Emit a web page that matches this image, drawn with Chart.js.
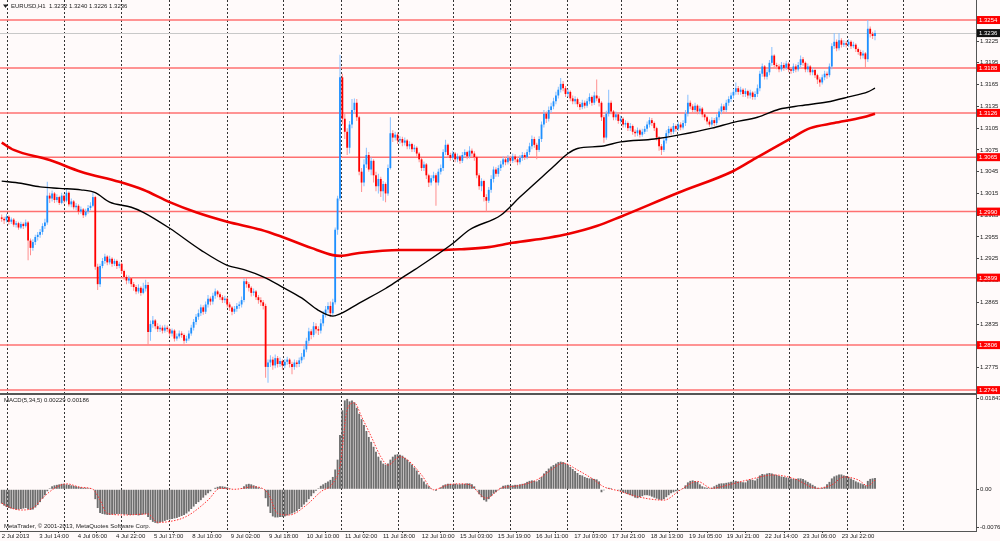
<!DOCTYPE html>
<html>
<head>
  <meta charset="UTF-8">
  <title>EURUSD,H1</title>
  <script src="https://cdn.jsdelivr.net/npm/chart.js@4.4.1/dist/chart.umd.min.js"></script>
  <style>
    html, body { margin: 0; padding: 0; background: #fffafa; }
    #wrap { position: relative; width: 1000px; height: 541px; }
  </style>
</head>
<body>
  <div id="wrap"><canvas id="chart" width="1000" height="541"></canvas></div>
  <script>
    // hourly candles (bar 0 = 2 Jul 22:00)
    var opens = [
      1.2982,1.2980,1.2978,1.2983,1.2976,1.2979,1.2972,1.2974,1.2968,1.2973,
      1.2970,1.2975,1.2950,1.2940,1.2948,1.2955,1.2958,1.2962,1.2970,1.2975,
      1.3012,1.3008,1.3015,1.3006,1.3010,1.3002,1.3012,1.3005,1.3016,1.3000,
      1.3004,1.2996,1.2998,1.2990,1.2993,1.2985,1.2990,1.2995,1.2998,1.3010,
      1.2914,1.2890,1.2915,1.2922,1.2928,1.2920,1.2925,1.2918,1.2922,1.2915,
      1.2918,1.2908,1.2900,1.2895,1.2898,1.2890,1.2886,1.2880,1.2885,1.2878,
      1.2884,1.2889,1.2824,1.2835,1.2840,1.2832,1.2828,1.2830,1.2826,1.2830,
      1.2828,1.2822,1.2826,1.2815,1.2818,1.2822,1.2820,1.2812,1.2815,1.2822,
      1.2830,1.2838,1.2845,1.2850,1.2858,1.2852,1.2862,1.2870,1.2866,1.2874,
      1.2880,1.2876,1.2872,1.2868,1.2870,1.2862,1.2858,1.2852,1.2856,1.2860,
      1.2862,1.2868,1.2894,1.2890,1.2885,1.2878,1.2880,1.2872,1.2868,1.2865,
      1.2860,1.2776,1.2782,1.2786,1.2778,1.2788,1.2780,1.2784,1.2778,1.2783,
      1.2786,1.2780,1.2776,1.2782,1.2780,1.2785,1.2790,1.2800,1.2812,1.2825,
      1.2820,1.2832,1.2828,1.2826,1.2836,1.2848,1.2855,1.2860,1.2850,1.2865,
      1.2965,1.3008,1.3175,1.3118,1.3100,1.3078,1.3110,1.3130,1.3140,1.3120,
      1.3045,1.3030,1.3055,1.3068,1.3048,1.3060,1.3040,1.3025,1.3035,1.3018,
      1.3028,1.3015,1.3050,1.3098,1.3092,1.3096,1.3088,1.3090,1.3085,1.3088,
      1.3080,1.3083,1.3076,1.3078,1.3070,1.3062,1.3050,1.3055,1.3040,1.3030,
      1.3036,1.3040,1.3030,1.3045,1.3050,1.3072,1.3082,1.3068,1.3064,1.3070,
      1.3062,1.3066,1.3060,1.3068,1.3072,1.3066,1.3074,1.3070,1.3065,1.3040,
      1.3025,1.3032,1.3010,1.3005,1.3020,1.3035,1.3048,1.3042,1.3050,1.3055,
      1.3062,1.3058,1.3064,1.3060,1.3066,1.3062,1.3058,1.3064,1.3068,1.3065,
      1.3072,1.3080,1.3090,1.3082,1.3075,1.3090,1.3110,1.3125,1.3118,1.3130,
      1.3135,1.3142,1.3150,1.3158,1.3166,1.3160,1.3152,1.3155,1.3146,1.3142,
      1.3145,1.3138,1.3134,1.3140,1.3136,1.3142,1.3148,1.3140,1.3150,1.3146,
      1.3140,1.3120,1.3092,1.3125,1.3140,1.3128,1.3120,1.3124,1.3115,1.3118,
      1.3110,1.3112,1.3105,1.3108,1.3100,1.3098,1.3102,1.3096,1.3100,1.3104,
      1.3110,1.3116,1.3112,1.3105,1.3092,1.3080,1.3075,1.3088,1.3098,1.3104,
      1.3100,1.3108,1.3104,1.3110,1.3106,1.3112,1.3125,1.3140,1.3135,1.3130,
      1.3136,1.3128,1.3132,1.3124,1.3120,1.3114,1.3110,1.3116,1.3112,1.3120,
      1.3128,1.3135,1.3130,1.3140,1.3145,1.3150,1.3155,1.3160,1.3155,1.3158,
      1.3152,1.3156,1.3150,1.3154,1.3148,1.3152,1.3160,1.3180,1.3190,1.3176,
      1.3182,1.3195,1.3205,1.3192,1.3190,1.3186,1.3192,1.3188,1.3194,1.3186,
      1.3184,1.3190,1.3186,1.3192,1.3200,1.3195,1.3186,1.3190,1.3182,1.3185,
      1.3178,1.3172,1.3168,1.3175,1.3180,1.3178,1.3190,1.3218,1.3224,1.3215,
      1.3226,1.3220,1.3222,1.3220,1.3224,1.3218,1.3220,1.3214,1.3210,1.3205,
      1.3208,1.3200,1.3242,1.3235,1.3232
    ];
    var highs = [
      1.2986,1.2983,1.2987,1.2985,1.2982,1.2981,1.2977,1.2976,1.2976,1.2975,
      1.2979,1.2977,1.2953,1.2952,1.2958,1.2962,1.2966,1.2974,1.2980,1.3031,
      1.3016,1.3019,1.3017,1.3014,1.3012,1.3016,1.3014,1.3022,1.3018,1.3008,
      1.3006,1.3002,1.3000,1.2997,1.2995,1.2994,1.2999,1.3003,1.3016,1.3012,
      1.2918,1.2918,1.2926,1.2932,1.2930,1.2929,1.2927,1.2925,1.2924,1.2921,
      1.2920,1.2910,1.2903,1.2902,1.2900,1.2893,1.2889,1.2890,1.2887,1.2892,
      1.2896,1.2893,1.2840,1.2846,1.2842,1.2836,1.2834,1.2833,1.2834,1.2833,
      1.2830,1.2829,1.2828,1.2822,1.2826,1.2825,1.2822,1.2819,1.2826,1.2834,
      1.2842,1.2849,1.2855,1.2862,1.2861,1.2866,1.2875,1.2873,1.2878,1.2884,
      1.2882,1.2879,1.2875,1.2874,1.2872,1.2865,1.2860,1.2860,1.2864,1.2866,
      1.2873,1.2898,1.2898,1.2893,1.2887,1.2884,1.2882,1.2875,1.2872,1.2868,
      1.2863,1.2786,1.2792,1.2790,1.2793,1.2791,1.2789,1.2786,1.2787,1.2790,
      1.2788,1.2783,1.2786,1.2785,1.2789,1.2795,1.2805,1.2816,1.2830,1.2828,
      1.2838,1.2836,1.2832,1.2842,1.2853,1.2860,1.2865,1.2866,1.2870,1.2968,
      1.3012,1.3206,1.3180,1.3125,1.3105,1.3115,1.3145,1.3146,1.3145,1.3122,
      1.3050,1.3062,1.3078,1.3072,1.3065,1.3062,1.3045,1.3042,1.3038,1.3032,
      1.3030,1.3055,1.3120,1.3102,1.3100,1.3099,1.3094,1.3093,1.3092,1.3090,
      1.3087,1.3085,1.3082,1.3080,1.3072,1.3064,1.3059,1.3057,1.3042,1.3040,
      1.3045,1.3043,1.3049,1.3055,1.3076,1.3089,1.3084,1.3071,1.3074,1.3072,
      1.3070,1.3068,1.3072,1.3076,1.3074,1.3080,1.3077,1.3073,1.3067,1.3043,
      1.3036,1.3034,1.3014,1.3024,1.3040,1.3052,1.3051,1.3054,1.3060,1.3066,
      1.3065,1.3068,1.3067,1.3070,1.3069,1.3065,1.3068,1.3072,1.3071,1.3076,
      1.3085,1.3095,1.3093,1.3085,1.3094,1.3114,1.3130,1.3128,1.3135,1.3140,
      1.3147,1.3155,1.3162,1.3174,1.3170,1.3163,1.3159,1.3157,1.3150,1.3149,
      1.3147,1.3141,1.3144,1.3143,1.3146,1.3153,1.3150,1.3155,1.3172,1.3149,
      1.3142,1.3123,1.3129,1.3158,1.3143,1.3130,1.3128,1.3126,1.3122,1.3120,
      1.3116,1.3114,1.3112,1.3110,1.3103,1.3106,1.3104,1.3104,1.3108,1.3114,
      1.3120,1.3119,1.3114,1.3107,1.3094,1.3083,1.3092,1.3102,1.3108,1.3107,
      1.3112,1.3110,1.3114,1.3113,1.3116,1.3130,1.3151,1.3143,1.3138,1.3140,
      1.3138,1.3136,1.3134,1.3127,1.3122,1.3117,1.3120,1.3119,1.3124,1.3132,
      1.3139,1.3138,1.3144,1.3149,1.3154,1.3159,1.3168,1.3163,1.3162,1.3160,
      1.3160,1.3158,1.3158,1.3156,1.3156,1.3165,1.3184,1.3194,1.3192,1.3186,
      1.3199,1.3217,1.3207,1.3195,1.3193,1.3196,1.3195,1.3198,1.3196,1.3189,
      1.3194,1.3193,1.3196,1.3205,1.3203,1.3197,1.3194,1.3192,1.3189,1.3187,
      1.3180,1.3175,1.3179,1.3184,1.3183,1.3194,1.3222,1.3236,1.3227,1.3236,
      1.3229,1.3226,1.3225,1.3228,1.3226,1.3224,1.3222,1.3216,1.3213,1.3212,
      1.3210,1.3254,1.3245,1.3238,1.3240
    ];
    var lows = [
      1.2976,1.2973,1.2975,1.2972,1.2973,1.2969,1.2968,1.2965,1.2966,1.2966,
      1.2968,1.2923,1.2930,1.2936,1.2944,1.2950,1.2954,1.2958,1.2966,1.2972,
      1.3002,1.3004,1.3002,1.3003,1.2999,1.3000,1.3001,1.3003,1.2997,1.2996,
      1.2993,1.2992,1.2986,1.2987,1.2981,1.2983,1.2987,1.2992,1.2996,1.2910,
      1.2882,1.2886,1.2912,1.2918,1.2916,1.2917,1.2914,1.2915,1.2911,1.2912,
      1.2904,1.2896,1.2890,1.2891,1.2886,1.2881,1.2876,1.2877,1.2874,1.2876,
      1.2880,1.2806,1.2812,1.2830,1.2828,1.2824,1.2824,1.2822,1.2823,1.2824,
      1.2818,1.2818,1.2811,1.2812,1.2815,1.2816,1.2808,1.2809,1.2812,1.2819,
      1.2826,1.2834,1.2841,1.2846,1.2848,1.2849,1.2858,1.2861,1.2862,1.2870,
      1.2872,1.2868,1.2864,1.2864,1.2858,1.2853,1.2847,1.2849,1.2852,1.2856,
      1.2858,1.2865,1.2885,1.2880,1.2873,1.2874,1.2868,1.2863,1.2860,1.2855,
      1.2761,1.2754,1.2776,1.2772,1.2774,1.2775,1.2776,1.2772,1.2774,1.2779,
      1.2775,1.2766,1.2772,1.2775,1.2776,1.2781,1.2786,1.2796,1.2808,1.2814,
      1.2817,1.2822,1.2820,1.2822,1.2832,1.2844,1.2850,1.2845,1.2846,1.2862,
      1.2958,1.3005,1.3110,1.3090,1.3068,1.3070,1.3105,1.3125,1.3115,1.3040,
      1.3017,1.3025,1.3050,1.3045,1.3040,1.3030,1.3018,1.3015,1.3010,1.3005,
      1.3003,1.3012,1.3048,1.3086,1.3088,1.3083,1.3084,1.3080,1.3081,1.3076,
      1.3076,1.3072,1.3072,1.3066,1.3058,1.3046,1.3046,1.3035,1.3024,1.3026,
      1.3032,1.2998,1.3026,1.3041,1.3046,1.3068,1.3064,1.3060,1.3061,1.3058,
      1.3058,1.3056,1.3057,1.3065,1.3062,1.3063,1.3066,1.3060,1.3036,1.3020,
      1.3018,1.3004,1.2990,1.3002,1.3016,1.3030,1.3038,1.3038,1.3046,1.3051,
      1.3054,1.3055,1.3056,1.3057,1.3058,1.3054,1.3055,1.3060,1.3061,1.3062,
      1.3068,1.3076,1.3078,1.3062,1.3072,1.3086,1.3106,1.3112,1.3114,1.3126,
      1.3131,1.3138,1.3146,1.3154,1.3156,1.3148,1.3148,1.3142,1.3138,1.3138,
      1.3134,1.3130,1.3131,1.3132,1.3133,1.3138,1.3136,1.3137,1.3142,1.3135,
      1.3115,1.3085,1.3089,1.3121,1.3124,1.3116,1.3116,1.3111,1.3111,1.3106,
      1.3106,1.3101,1.3101,1.3096,1.3093,1.3094,1.3092,1.3093,1.3097,1.3100,
      1.3106,1.3108,1.3101,1.3088,1.3074,1.3068,1.3072,1.3084,1.3094,1.3096,
      1.3097,1.3100,1.3101,1.3102,1.3103,1.3108,1.3121,1.3131,1.3126,1.3127,
      1.3124,1.3124,1.3120,1.3116,1.3110,1.3107,1.3107,1.3108,1.3109,1.3116,
      1.3124,1.3126,1.3127,1.3136,1.3141,1.3146,1.3151,1.3151,1.3151,1.3148,
      1.3148,1.3146,1.3146,1.3144,1.3144,1.3148,1.3156,1.3176,1.3172,1.3172,
      1.3178,1.3191,1.3188,1.3186,1.3182,1.3183,1.3184,1.3185,1.3182,1.3180,
      1.3181,1.3182,1.3183,1.3188,1.3191,1.3182,1.3182,1.3178,1.3178,1.3174,
      1.3166,1.3162,1.3165,1.3171,1.3173,1.3175,1.3186,1.3214,1.3211,1.3212,
      1.3216,1.3217,1.3216,1.3217,1.3214,1.3215,1.3210,1.3206,1.3200,1.3201,
      1.3188,1.3196,1.3230,1.3228,1.3226
    ];
    var closes = [
      1.2980,1.2978,1.2983,1.2976,1.2979,1.2972,1.2974,1.2968,1.2973,1.2970,
      1.2975,1.2950,1.2940,1.2948,1.2955,1.2958,1.2962,1.2970,1.2975,1.3012,
      1.3008,1.3015,1.3006,1.3010,1.3002,1.3012,1.3005,1.3016,1.3000,1.3004,
      1.2996,1.2998,1.2990,1.2993,1.2985,1.2990,1.2995,1.2998,1.3010,1.2914,
      1.2890,1.2915,1.2922,1.2928,1.2920,1.2925,1.2918,1.2922,1.2915,1.2918,
      1.2908,1.2900,1.2895,1.2898,1.2890,1.2886,1.2880,1.2885,1.2878,1.2884,
      1.2889,1.2824,1.2835,1.2840,1.2832,1.2828,1.2830,1.2826,1.2830,1.2828,
      1.2822,1.2826,1.2815,1.2818,1.2822,1.2820,1.2812,1.2815,1.2822,1.2830,
      1.2838,1.2845,1.2850,1.2858,1.2852,1.2862,1.2870,1.2866,1.2874,1.2880,
      1.2876,1.2872,1.2868,1.2870,1.2862,1.2858,1.2852,1.2856,1.2860,1.2862,
      1.2868,1.2894,1.2890,1.2885,1.2878,1.2880,1.2872,1.2868,1.2865,1.2860,
      1.2776,1.2782,1.2786,1.2778,1.2788,1.2780,1.2784,1.2778,1.2783,1.2786,
      1.2780,1.2776,1.2782,1.2780,1.2785,1.2790,1.2800,1.2812,1.2825,1.2820,
      1.2832,1.2828,1.2826,1.2836,1.2848,1.2855,1.2860,1.2850,1.2865,1.2965,
      1.3008,1.3175,1.3118,1.3100,1.3078,1.3110,1.3130,1.3140,1.3120,1.3045,
      1.3030,1.3055,1.3068,1.3048,1.3060,1.3040,1.3025,1.3035,1.3018,1.3028,
      1.3015,1.3050,1.3098,1.3092,1.3096,1.3088,1.3090,1.3085,1.3088,1.3080,
      1.3083,1.3076,1.3078,1.3070,1.3062,1.3050,1.3055,1.3040,1.3030,1.3036,
      1.3040,1.3030,1.3045,1.3050,1.3072,1.3082,1.3068,1.3064,1.3070,1.3062,
      1.3066,1.3060,1.3068,1.3072,1.3066,1.3074,1.3070,1.3065,1.3040,1.3025,
      1.3032,1.3010,1.3005,1.3020,1.3035,1.3048,1.3042,1.3050,1.3055,1.3062,
      1.3058,1.3064,1.3060,1.3066,1.3062,1.3058,1.3064,1.3068,1.3065,1.3072,
      1.3080,1.3090,1.3082,1.3075,1.3090,1.3110,1.3125,1.3118,1.3130,1.3135,
      1.3142,1.3150,1.3158,1.3166,1.3160,1.3152,1.3155,1.3146,1.3142,1.3145,
      1.3138,1.3134,1.3140,1.3136,1.3142,1.3148,1.3140,1.3150,1.3146,1.3140,
      1.3120,1.3092,1.3125,1.3140,1.3128,1.3120,1.3124,1.3115,1.3118,1.3110,
      1.3112,1.3105,1.3108,1.3100,1.3098,1.3102,1.3096,1.3100,1.3104,1.3110,
      1.3116,1.3112,1.3105,1.3092,1.3080,1.3075,1.3088,1.3098,1.3104,1.3100,
      1.3108,1.3104,1.3110,1.3106,1.3112,1.3125,1.3140,1.3135,1.3130,1.3136,
      1.3128,1.3132,1.3124,1.3120,1.3114,1.3110,1.3116,1.3112,1.3120,1.3128,
      1.3135,1.3130,1.3140,1.3145,1.3150,1.3155,1.3160,1.3155,1.3158,1.3152,
      1.3156,1.3150,1.3154,1.3148,1.3152,1.3160,1.3180,1.3190,1.3176,1.3182,
      1.3195,1.3205,1.3192,1.3190,1.3186,1.3192,1.3188,1.3194,1.3186,1.3184,
      1.3190,1.3186,1.3192,1.3200,1.3195,1.3186,1.3190,1.3182,1.3185,1.3178,
      1.3172,1.3168,1.3175,1.3180,1.3178,1.3190,1.3218,1.3224,1.3215,1.3226,
      1.3220,1.3222,1.3220,1.3224,1.3218,1.3220,1.3214,1.3210,1.3205,1.3208,
      1.3200,1.3242,1.3235,1.3232,1.3236
    ];

    // moving averages (black = fast, red = slow), sampled along the curves
    var maFastBars = [0,8,16,24,33,39,45,54,59,70,83,94,101,109,117,125,132,138,141,149,160,166,174,188,195,208,216,230,236,240,250,258,272,283,296,305,315,324,333,344,353,361,364];
    var maFastVals = [1.3032,1.3029,1.3024,1.3022,1.3020,1.3016,1.3003,1.2996,1.2989,1.2967,1.2937,1.2916,1.2910,1.2900,1.2886,1.2871,1.2854,1.2846,1.2849,1.2864,1.2884,1.2897,1.2914,1.2946,1.2965,1.2985,1.3010,1.3052,1.3070,1.3077,1.3080,1.3086,1.3090,1.3096,1.3105,1.3113,1.3120,1.3131,1.3136,1.3141,1.3148,1.3155,1.3160];
    var maSlowBars = [0,5,20,33,49,59,70,81,94,108,117,129,138,141,149,166,183,191,203,213,228,236,248,258,282,305,315,329,337,347,359,364];
    var maSlowVals = [1.3085,1.3075,1.3061,1.3045,1.3031,1.3020,1.3003,1.2989,1.2976,1.2965,1.2955,1.2940,1.2930,1.2929,1.2933,1.2937,1.2937,1.2938,1.2941,1.2947,1.2954,1.2959,1.2970,1.2983,1.3016,1.3046,1.3065,1.3091,1.3105,1.3112,1.3120,1.3125];

    // MACD(5,34,5) histogram per bar and its signal line
    var macdHist = [
      -0.0029,-0.0033,-0.0036,-0.0038,-0.0039,-0.0040,-0.0041,-0.0041,-0.0040,-0.0039,
      -0.0038,-0.0040,-0.0042,-0.0041,-0.0037,-0.0032,-0.0026,-0.0019,-0.0012,-0.0004,
      0.0002,0.0006,0.0008,0.0009,0.0010,0.0011,0.0011,0.0010,0.0009,0.0008,
      0.0007,0.0006,0.0005,0.0004,0.0003,0.0003,0.0002,0.0002,0.0001,-0.0020,
      -0.0038,-0.0048,-0.0050,-0.0051,-0.0052,-0.0052,-0.0051,-0.0051,-0.0050,-0.0050,
      -0.0050,-0.0051,-0.0051,-0.0052,-0.0052,-0.0052,-0.0052,-0.0053,-0.0052,-0.0051,
      -0.0050,-0.0056,-0.0062,-0.0066,-0.0068,-0.0069,-0.0067,-0.0066,-0.0064,-0.0062,
      -0.0061,-0.0060,-0.0059,-0.0058,-0.0056,-0.0054,-0.0052,-0.0049,-0.0045,-0.0040,
      -0.0035,-0.0030,-0.0026,-0.0022,-0.0017,-0.0012,-0.0008,-0.0004,0.0000,0.0003,
      0.0005,0.0006,0.0006,0.0005,0.0004,0.0002,0.0000,-0.0001,-0.0001,0.0000,
      0.0002,0.0006,0.0010,0.0011,0.0010,0.0008,0.0006,0.0004,0.0002,0.0000,
      -0.0018,-0.0035,-0.0048,-0.0055,-0.0057,-0.0057,-0.0056,-0.0056,-0.0055,-0.0053,
      -0.0051,-0.0049,-0.0047,-0.0044,-0.0040,-0.0036,-0.0031,-0.0026,-0.0020,-0.0014,
      -0.0008,-0.0003,0.0002,0.0007,0.0010,0.0013,0.0016,0.0019,0.0025,0.0040,
      0.0060,0.0110,0.0160,0.0180,0.0183,0.0178,0.0180,0.0176,0.0165,0.0153,
      0.0142,0.0130,0.0118,0.0106,0.0096,0.0086,0.0076,0.0066,0.0058,0.0052,
      0.0050,0.0052,0.0060,0.0066,0.0070,0.0071,0.0070,0.0068,0.0064,0.0060,
      0.0055,0.0050,0.0044,0.0038,0.0030,0.0023,0.0016,0.0010,0.0006,0.0002,
      -0.0001,-0.0003,0.0001,0.0004,0.0008,0.0010,0.0011,0.0011,0.0010,0.0011,
      0.0010,0.0010,0.0011,0.0011,0.0012,0.0012,0.0010,0.0006,-0.0002,-0.0010,
      -0.0016,-0.0022,-0.0025,-0.0020,-0.0014,-0.0009,-0.0006,-0.0002,0.0003,0.0007,
      0.0008,0.0009,0.0008,0.0008,0.0009,0.0009,0.0010,0.0011,0.0012,0.0015,
      0.0017,0.0018,0.0017,0.0016,0.0019,0.0025,0.0032,0.0037,0.0042,0.0046,
      0.0049,0.0052,0.0055,0.0056,0.0055,0.0052,0.0049,0.0045,0.0041,0.0037,
      0.0033,0.0029,0.0028,0.0025,0.0023,0.0022,0.0022,0.0021,0.0020,0.0016,
      -0.0006,-0.0002,0.0000,0.0003,0.0002,0.0001,0.0000,-0.0002,-0.0004,-0.0006,
      -0.0008,-0.0010,-0.0012,-0.0014,-0.0017,-0.0018,-0.0016,-0.0014,-0.0012,-0.0012,
      -0.0013,-0.0015,-0.0017,-0.0019,-0.0021,-0.0022,-0.0020,-0.0016,-0.0012,-0.0008,
      -0.0006,-0.0004,-0.0003,-0.0001,0.0002,0.0008,0.0014,0.0017,0.0018,0.0017,
      0.0015,0.0010,0.0006,0.0004,0.0003,0.0002,0.0003,0.0006,0.0009,0.0011,
      0.0012,0.0012,0.0013,0.0014,0.0015,0.0016,0.0017,0.0016,0.0015,0.0014,
      0.0014,0.0018,0.0020,0.0019,0.0018,0.0022,0.0028,0.0031,0.0030,0.0032,
      0.0033,0.0032,0.0030,0.0029,0.0027,0.0026,0.0025,0.0024,0.0023,0.0022,
      0.0021,0.0021,0.0022,0.0022,0.0021,0.0018,0.0015,0.0012,0.0009,0.0006,
      0.0003,0.0002,0.0003,0.0005,0.0010,0.0015,0.0022,0.0026,0.0028,0.0030,
      0.0030,0.0028,0.0027,0.0025,0.0022,0.0019,0.0016,0.0014,0.0012,0.0010,
      0.0008,0.0017,0.0021,0.0022,0.00229
    ];
    var sigBars = [0,4,8,13,17,22,27,33,38,41,44,52,61,65,69,77,86,91,97,105,111,115,120,127,133,138,141,144,147,150,154,158,161,166,170,175,180,186,191,195,202,208,215,223,229,234,240,246,251,257,266,276,283,290,296,303,311,322,330,340,346,351,357,361,364];
    var sigVals = [-0.0028,-0.0038,-0.0042,-0.0038,-0.0018,0.0002,0.0011,0.0004,0.0000,-0.0022,-0.0049,-0.0052,-0.0050,-0.0067,-0.0066,-0.0055,-0.0022,0.0002,0.0000,0.0005,-0.0008,-0.0049,-0.0052,-0.0032,-0.0005,0.0012,0.0046,0.0161,0.0175,0.0147,0.0107,0.0066,0.0049,0.0066,0.0056,0.0029,-0.0001,0.0009,0.0011,0.0009,-0.0018,0.0002,0.0007,0.0019,0.0039,0.0053,0.0039,0.0022,0.0005,-0.0003,-0.0016,-0.0022,-0.0001,0.0016,0.0002,0.0009,0.0019,0.0029,0.0022,0.0002,0.0009,0.0025,0.0019,0.0007,0.00186];

    // horizontal levels and axes
    var levels = [1.3254, 1.3188, 1.3126, 1.3065, 1.2990, 1.2899, 1.2806, 1.2744];
    var lastPrice = 1.3236;
    var priceTicks = [1.2775,1.2805,1.2835,1.2865,1.2895,1.2925,1.2955,1.2985,1.3015,1.3045,1.3075,1.3105,1.3135,1.3165,1.3195,1.3225];
    var macdTicks = [-0.00764, 0, 0.01843];
    var timeLabels = ['2 Jul 2013','3 Jul 14:00','4 Jul 06:00','4 Jul 22:00','5 Jul 17:00','8 Jul 10:00','9 Jul 02:00','9 Jul 18:00','10 Jul 10:00','11 Jul 02:00','11 Jul 18:00','12 Jul 10:00','15 Jul 03:00','15 Jul 19:00','16 Jul 11:00','17 Jul 03:00','17 Jul 21:00','18 Jul 13:00','19 Jul 05:00','19 Jul 21:00','22 Jul 14:00','23 Jul 06:00','23 Jul 22:00'];
    var labelBars = [0,15.7,31.7,47.6,63.5,79.4,95.5,111.4,127.1,143.1,158.9,175.1,191,206.8,222.7,238.6,254.4,270.5,286.5,302.2,318.2,334,350.1];
    var dayBars = [2.1,26,49.7,69.7,93.9,117.3,141.3,165.2,188.1,211.9,235.6,258.2,281.5,304.8,328.2,352.4,375.7];

    var FONT = '"Liberation Sans", Arial, sans-serif';
    Chart.defaults.font.family = FONT;
    Chart.defaults.font.size = 6;
    Chart.defaults.color = '#222';

    var wickData = [], bodyData = [], bodyColors = [], wickColors = [], histData = [];
    for (var i = 0; i < closes.length; i++) {
      var up = closes[i] >= opens[i];
      wickData.push({x: i, y: [lows[i], highs[i]]});
      bodyData.push({x: i, y: [opens[i], closes[i]]});
      bodyColors.push(up ? '#1e90ff' : '#ff0000');
      wickColors.push(up ? '#88c0ff' : '#ff9090');
      histData.push({x: i, y: macdHist[i]});
    }
    function pts(xs, ys) {
      return xs.map(function(x, k) { return {x: x, y: ys[k]}; });
    }
    // no label overhang padding: the panes fill the canvas edge to edge
    function noPad(s) {
      s.paddingTop = 0; s.paddingBottom = 0; s.paddingLeft = 0; s.paddingRight = 0;
    }

    var overlay = {
      id: 'overlay',
      beforeDraw: function(chart) {
        var c = chart.ctx;
        c.save();
        c.fillStyle = '#fffafa';
        c.fillRect(0, 0, chart.width, chart.height);
        c.restore();
      },
      beforeDatasetsDraw: function(chart) {
        var c = chart.ctx, a = chart.chartArea, xs = chart.scales.x, ys = chart.scales.y;
        c.save();
        c.strokeStyle = '#333';
        c.lineWidth = 1;
        c.setLineDash([2, 2]);
        dayBars.forEach(function(b) {
          var px = Math.round(xs.getPixelForValue(b)) + 0.5;
          c.beginPath(); c.moveTo(px, a.top); c.lineTo(px, a.bottom); c.stroke();
        });
        c.setLineDash([]);
        var py = Math.round(ys.getPixelForValue(lastPrice)) + 0.5;
        c.strokeStyle = '#c8c8c8';
        c.beginPath(); c.moveTo(a.left, py); c.lineTo(a.right, py); c.stroke();
        c.strokeStyle = '#ff7070';
        c.lineWidth = 1.5;
        levels.forEach(function(v) {
          var ly = ys.getPixelForValue(v);
          c.beginPath(); c.moveTo(a.left, ly); c.lineTo(a.right, ly); c.stroke();
        });
        c.restore();
      },
      afterDraw: function(chart) {
        var c = chart.ctx, a = chart.chartArea, ys = chart.scales.y, ms = chart.scales.m;
        var n = closes.length - 1;
        c.save();
        // panel separator
        c.fillStyle = '#555';
        c.fillRect(a.left, ms.top, a.right - a.left, 2);
        // price boxes on the right scale
        c.font = '6px ' + FONT;
        c.textBaseline = 'middle';
        c.textAlign = 'left';
        levels.forEach(function(v) {
          var ly = ys.getPixelForValue(v);
          c.fillStyle = '#ff0000';
          c.fillRect(a.right + 1, ly - 4, 23, 8);
          c.fillStyle = '#fff';
          c.fillText(v.toFixed(4), a.right + 3, ly + 0.5);
        });
        var ly = ys.getPixelForValue(lastPrice);
        c.fillStyle = '#111';
        c.fillRect(a.right + 1, ly - 4, 23, 8);
        c.fillStyle = '#fff';
        c.fillText(lastPrice.toFixed(4), a.right + 3, ly + 0.5);
        // texts
        c.fillStyle = '#222';
        c.beginPath(); c.moveTo(3, 4.5); c.lineTo(8, 4.5); c.lineTo(5.5, 8); c.closePath(); c.fill();
        c.fillText('EURUSD,H1  ' + [opens[n], highs[n], lows[n], closes[n]].map(function(v) { return v.toFixed(4); }).join(' '), 11, 6.5);
        c.fillText('MACD(5,34,5) ' + macdHist[n].toFixed(5) + ' ' + sigVals[sigVals.length - 1].toFixed(5), 4, ms.top + 7);
        c.fillText('MetaTrader, \u00a9 2001-2013, MetaQuotes Software Corp.', 4, ms.bottom - 5);
        c.restore();
      }
    };

    new Chart(document.getElementById('chart'), {
      data: {
        datasets: [
          {type: 'line', label: 'MA fast', data: pts(maFastBars, maFastVals), yAxisID: 'y', borderColor: '#000', borderWidth: 1.4, pointRadius: 0, cubicInterpolationMode: 'monotone', order: 0},
          {type: 'line', label: 'MA slow', data: pts(maSlowBars, maSlowVals), yAxisID: 'y', borderColor: '#ee0000', borderWidth: 2.6, pointRadius: 0, cubicInterpolationMode: 'monotone', order: 0},
          {type: 'bar', label: 'bodies', data: bodyData, yAxisID: 'y', backgroundColor: bodyColors, grouped: false, barPercentage: 0.75, categoryPercentage: 1, minBarLength: 1, borderWidth: 0, order: 1},
          {type: 'bar', label: 'wicks', data: wickData, yAxisID: 'y', backgroundColor: wickColors, grouped: false, barPercentage: 0.42, categoryPercentage: 1, borderWidth: 0, order: 2},
          {type: 'line', label: 'Signal', data: pts(sigBars, sigVals), yAxisID: 'm', borderColor: '#ff3030', borderWidth: 1, borderDash: [1.5, 1.5], pointRadius: 0, cubicInterpolationMode: 'monotone', order: 0},
          {type: 'bar', label: 'MACD', data: histData, yAxisID: 'm', backgroundColor: '#6e6e6e', grouped: false, barPercentage: 0.78, categoryPercentage: 1, borderWidth: 0, order: 1}
        ]
      },
      options: {
        responsive: false,
        animation: false,
        events: [],
        layout: {padding: 0},
        plugins: {legend: {display: false}, tooltip: {enabled: false}},
        scales: {
          x: {
            type: 'linear', min: -0.71, max: 406.1, offset: false,
            afterBuildTicks: function(s) { s.ticks = labelBars.map(function(v) { return {value: v}; }); },
            afterFit: function(s) { s.height = 10; noPad(s); },
            ticks: {
              autoSkip: false, maxRotation: 0, minRotation: 0, align: 'start', padding: 0,
              callback: function(v) { var k = labelBars.indexOf(v); return k >= 0 ? timeLabels[k] : ''; }
            },
            grid: {drawOnChartArea: false, tickLength: 2, color: '#444'},
            border: {color: '#555'}
          },
          y: {
            type: 'linear', position: 'right', stack: 'panes', stackWeight: 393,
            min: 1.27400, max: 1.32816,
            afterBuildTicks: function(s) { s.ticks = priceTicks.map(function(v) { return {value: v}; }); },
            afterFit: function(s) { s.width = 24; noPad(s); },
            ticks: {autoSkip: false, padding: 1, callback: function(v) { return v.toFixed(4); }},
            grid: {drawOnChartArea: false, tickLength: 3, color: '#444'},
            border: {color: '#555'}
          },
          m: {
            type: 'linear', position: 'right', stack: 'panes', stackWeight: 138,
            min: -0.00845, max: 0.0195,
            afterBuildTicks: function(s) { s.ticks = macdTicks.map(function(v) { return {value: v}; }); },
            afterFit: function(s) { s.width = 24; noPad(s); },
            ticks: {autoSkip: false, padding: 1, callback: function(v) { return v === 0 ? '0.00' : v.toFixed(5); }},
            grid: {drawOnChartArea: false, tickLength: 3, color: '#444'},
            border: {color: '#555'}
          }
        }
      },
      plugins: [overlay]
    });
  </script>
</body>
</html>
